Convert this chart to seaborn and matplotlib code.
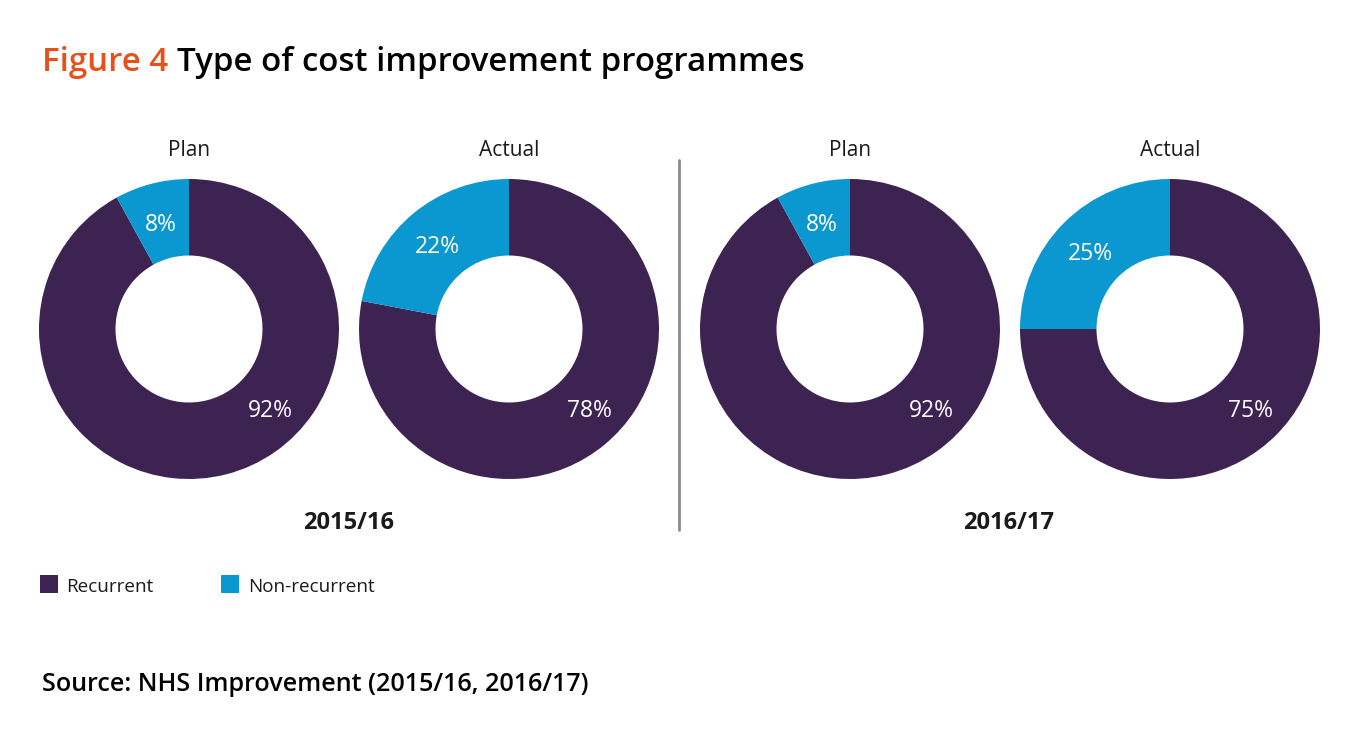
import matplotlib
matplotlib.use("Agg")
import matplotlib.pyplot as plt
import seaborn as sns
import numpy as np

sns.set_theme(style="white")
plt.rcParams['font.family'] = ['Open Sans', 'DejaVu Sans']

# Data
years = ["2015/16", "2016/17"]
panels = ["Plan", "Actual", "Plan", "Actual"]
categories = ["Recurrent", "Non-recurrent"]
recurrent = [92, 78, 92, 75]
non_recurrent = [8, 22, 8, 25]
colors = ["#3D2352", "#0B98D0"]

W, H = 1367, 737
fig = plt.figure(figsize=(W / 100, H / 100), dpi=100)
fig.patch.set_facecolor("white")

centers_x = [189, 509, 850, 1170]
cy = 329
R = 150

def fx(x):
    return x / W

def fy(y):
    return 1 - y / H

for i, cx in enumerate(centers_x):
    ax = fig.add_axes([fx(cx - R), fy(cy + R), 2 * R / W, 2 * R / H])
    vals = [recurrent[i], non_recurrent[i]]
    ax.pie(vals, colors=colors, startangle=90, counterclock=False,
           radius=1, wedgeprops=dict(width=0.51, edgecolor="none"))
    ax.set_xlim(-1, 1)
    ax.set_ylim(-1, 1)
    ax.set_aspect("equal")
    ax.axis("off")
    rl = 0.75
    mid = np.deg2rad(90 + 360 * vals[1] / 100 / 2)
    ax.text(rl * np.cos(mid), rl * np.sin(mid) - 0.03, f"{vals[1]}%", color="white",
            ha="center", va="center", fontsize=16.5)
    ang = np.deg2rad(-44)
    ax.text(rl * np.cos(ang), rl * np.sin(ang) - 0.025, f"{vals[0]}%", color="white",
            ha="center", va="center", fontsize=16.5)
    fig.text(fx(cx), fy(150.5), panels[i], ha="center", va="center",
             fontsize=15, color="#1a1a1a")

# Year labels
fig.text(fx(349), fy(523), years[0], ha="center", va="center", fontsize=17,
         fontweight="bold", color="#1a1a1a")
fig.text(fx(1009), fy(523), years[1], ha="center", va="center", fontsize=17,
         fontweight="bold", color="#1a1a1a")

# Divider
fig.add_artist(plt.Line2D([fx(679), fx(679)], [fy(160), fy(530)],
                          color="#8c8c8c", linewidth=2))

# Title
t1 = fig.text(fx(42), fy(62.5), "Figure 4", ha="left", va="center", fontsize=23.8,
              fontweight="semibold", color="#E8501A")
fig.canvas.draw()
bb = t1.get_window_extent()
fig.text(fx(42) + (bb.width + 9) / W, fy(62.5), "Type of cost improvement programmes",
         ha="left", va="center", fontsize=23.8, fontweight="semibold", color="black")

# Legend
for (sx, tx, lab, col) in [(40, 66, categories[0], colors[0]),
                           (221, 248, categories[1], colors[1])]:
    fig.add_artist(plt.Rectangle((fx(sx), fy(593)), 18 / W, 18 / H,
                                 facecolor=col, edgecolor="none",
                                 transform=fig.transFigure))
    fig.text(fx(tx), fy(587), lab, ha="left", va="center", fontsize=13.6,
             color="#1a1a1a")

# Source
fig.text(fx(42), fy(684.5), "Source: NHS Improvement (2015/16, 2016/17)",
         ha="left", va="center", fontsize=18.1, fontweight="semibold", color="black")

fig.savefig("out.png", dpi=100, facecolor="white")
